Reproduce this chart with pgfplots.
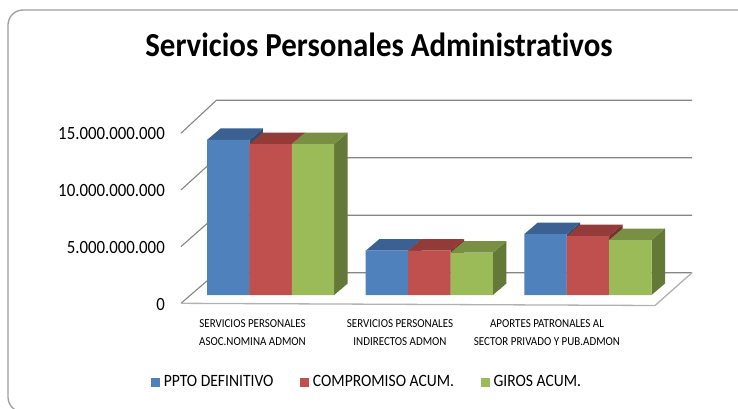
\documentclass[border=0pt]{standalone}
\usepackage{pgfplots}
\usepackage{pgfplotstable}
\pgfplotsset{compat=1.18}
\usepackage{fontspec}
\setmainfont{Carlito}
\newfontfamily\titlefont[FakeStretch=0.92,Ligatures=NoCommon]{Carlito}
\newfontfamily\condfont[FakeStretch=0.9,Ligatures=NoCommon]{Carlito}

\definecolor{bfront}{RGB}{79,129,189}
\definecolor{btop}{RGB}{59,97,146}
\definecolor{bside}{RGB}{47,78,118}
\definecolor{rfront}{RGB}{192,80,77}
\definecolor{rtop}{RGB}{146,59,57}
\definecolor{rside}{RGB}{120,48,46}
\definecolor{gfront}{RGB}{155,187,89}
\definecolor{gtop}{RGB}{120,143,68}
\definecolor{gside}{RGB}{100,121,56}
\definecolor{gridc}{RGB}{134,134,134}

\pgfplotstableread{
cat xb xr xg ppto comp giros
1 228.2 270.6 313.0 13480000000 13130000000 13130000000
2 386.9 429.3 471.7 3850000000 3850000000 3680000000
3 545.5 587.9 630.3 5300000000 5130000000 4780000000
}\datatab

% top and side faces of a bar: #1 left x, #2 right x, #3 value (1e9), #4 top colour, #5 side colour
\newcommand\cube[5]{%
  \pgfmathsetmacro\xa{#1}\pgfmathsetmacro\xb{#2}%
  \pgfmathsetmacro\xc{#2+13.5}\pgfmathsetmacro\xd{#1+13.5}%
  \pgfmathsetmacro\vt{#3+1}%
  \addplot[fill=#5,draw=none,forget plot] coordinates {(\xb,0) (\xc,1) (\xc,\vt) (\xb,#3)};
  \addplot[fill=#4,draw=none,forget plot] coordinates {(\xa,#3) (\xb,#3) (\xc,\vt) (\xd,\vt)};
}

\begin{document}
\begin{tikzpicture}
\useasboundingbox (0,0) rectangle (738pt,408pt);
\fill[white] (0,0) rectangle (738pt,408pt);
\begin{scope}[x=1pt,y=-1pt,yshift=408pt]
  % outer frame (cropped at right and bottom)
  \draw[gray!75, line width=1.3pt, rounded corners=15pt] (8,10) rectangle (775,412);
  % side wall and back wall grid lines
  \foreach \fy/\by in {303.3/272.7, 246.6/215.2, 189.9/157.7, 133.2/100.2}{
    \draw[gridc, line width=1.1pt] (181,\fy) -- (216.5,\by) -- (692,\by);
  }
  % floor
  \draw[gray!60, line width=1.3pt] (181,303.3) -- (655,305.5) -- (692,272.7);
  % title
  \node[anchor=base, font=\titlefont\bfseries\fontsize{33.6}{36}\selectfont] at (379,56.7) {Servicios Personales Administrativos};
  % tick labels
  \foreach \fy/\lab in {304.5/0, 247.5/5.000.000.000, 190.5/10.000.000.000, 133.8/15.000.000.000}{
    \node[anchor=east, inner sep=0pt, font=\condfont\fontsize{18.7}{20}\selectfont] at (165,\fy) {\lab};
  }
  % category labels
  \begin{scope}[every node/.style={inner sep=0pt, font=\condfont\fontsize{12.2}{13}\selectfont}]
    \node at (252.5,324) {SERVICIOS PERSONALES};
    \node at (252.5,341.7) {ASOC.NOMINA ADMON};
    \node at (400,324) {SERVICIOS PERSONALES};
    \node at (400,341.7) {INDIRECTOS ADMON};
    \node at (547,324) {APORTES PATRONALES AL};
    \node at (547,341.7) {SECTOR PRIVADO Y PUB.ADMON};
  \end{scope}
\end{scope}

\begin{axis}[
  at={(0,0)}, anchor=south west,
  scale only axis, width=738pt, height=408pt,
  xmin=0, xmax=738, ymin=-9.826087, ymax=25.652174,
  hide axis, clip=false,
  legend columns=3,
  legend style={at={(rel axis cs:0.4975,0.0637)}, anchor=center, draw=none, fill=none,
    font=\condfont\fontsize{17.3}{18}\selectfont, inner sep=0pt,
    /tikz/every even column/.append style={column sep=25pt}},
  legend image code/.code={\fill[#1] (0pt,-4.8pt) rectangle (8.6pt,4.2pt); \path (10.5pt,0pt);},
]
% group 1
\cube{207.0}{249.4}{13.48}{btop}{bside}
\cube{249.4}{291.8}{13.13}{rtop}{rside}
\cube{291.8}{334.2}{13.13}{gtop}{gside}
% group 2
\cube{365.7}{408.1}{3.85}{btop}{bside}
\cube{408.1}{450.5}{3.85}{rtop}{rside}
\cube{450.5}{492.9}{3.68}{gtop}{gside}
% group 3
\cube{524.3}{566.7}{5.30}{btop}{bside}
\cube{566.7}{609.1}{5.13}{rtop}{rside}
\cube{609.1}{651.5}{4.78}{gtop}{gside}
% front faces
\addplot[ybar, bar width=42.4, bar shift=0pt, fill=bfront, draw=none] table[x=xb, y expr=\thisrow{ppto}/1e9] {\datatab};
\addlegendentry{PPTO DEFINITIVO}
\addplot[ybar, bar width=42.4, bar shift=0pt, fill=rfront, draw=none] table[x=xr, y expr=\thisrow{comp}/1e9] {\datatab};
\addlegendentry{COMPROMISO ACUM.}
\addplot[ybar, bar width=42.4, bar shift=0pt, fill=gfront, draw=none] table[x=xg, y expr=\thisrow{giros}/1e9] {\datatab};
\addlegendentry{GIROS ACUM.}
\end{axis}
\end{tikzpicture}
\end{document}
